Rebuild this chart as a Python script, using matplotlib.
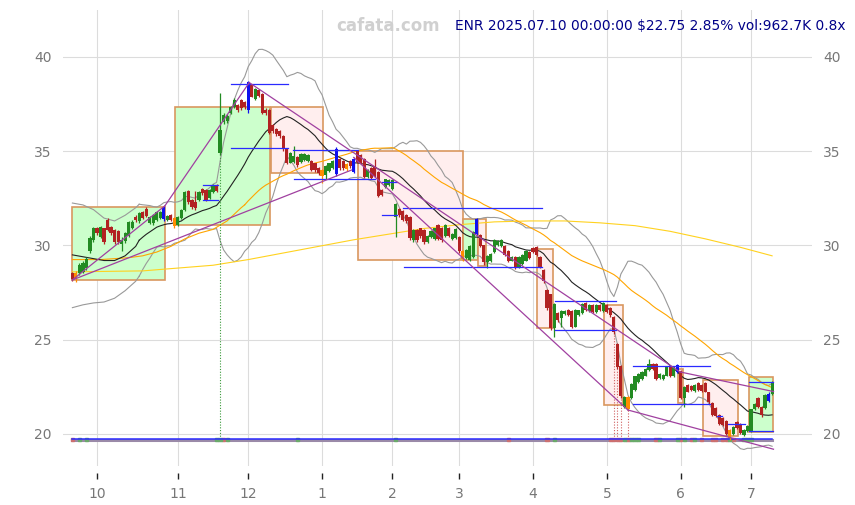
import numpy as np
import pandas as pd
import matplotlib
matplotlib.use('Agg')
import matplotlib.pyplot as plt
from matplotlib.patches import Rectangle

# ---------------- data ----------------
month_labels = ['10', '11', '12', '1', '2', '3', '4', '5', '6', '7']
month_start_idx = [7, 30, 50, 71, 91, 110, 131, 152, 173, 193]

opens = [28.55, 28.20, 28.55, 28.60, 28.80, 29.70, 30.30, 30.90, 30.45, 30.90,
         31.35, 31.00, 30.80, 30.75, 30.10, 30.25, 30.50, 30.90, 31.50, 31.30,
         31.80, 31.95, 31.20, 31.20, 31.35, 31.45, 31.40, 31.35, 31.60, 31.45,
         31.10, 31.45, 31.90, 32.90, 32.40, 32.30, 32.40, 33.00, 32.95, 32.50,
         32.85, 33.20, 34.90, 36.55, 36.60, 37.00, 37.35, 37.45, 37.70, 37.60,
         37.20, 38.50, 37.75, 38.25, 38.05, 37.20, 37.20, 36.40, 36.20, 36.05,
         35.80, 35.10, 34.40, 34.45, 34.70, 34.45, 34.55, 34.50, 34.50, 34.35,
         34.10, 34.00, 33.75, 33.95, 34.10, 33.80, 34.60, 34.50, 34.30, 34.50,
         33.90, 35.00, 34.80, 34.60, 33.65, 34.10, 34.20, 33.90, 32.95, 33.10,
         33.20, 33.00, 31.50, 31.95, 31.85, 31.60, 31.50, 30.30, 30.80, 30.90,
         30.80, 30.20, 30.45, 30.35, 31.10, 30.95, 30.50, 30.95, 30.35, 30.40,
         30.45, 29.70, 29.35, 29.25, 29.40, 30.60, 30.55, 30.00, 29.10, 29.20,
         29.65, 30.00, 29.95, 29.95, 29.70, 29.20, 29.40, 28.85, 29.00, 29.20,
         29.65, 29.85, 29.90, 29.40, 28.70, 27.65, 27.40, 25.60, 26.40, 26.15,
         26.35, 26.60, 26.50, 25.70, 26.30, 26.40, 26.95, 26.50, 26.85, 26.45,
         26.85, 26.50, 26.85, 26.70, 26.20, 24.75, 23.60, 21.45, 21.95, 21.90,
         22.35, 22.75, 22.90, 23.10, 23.40, 23.70, 23.70, 22.95, 22.90, 23.10,
         23.60, 23.05, 23.30, 23.35, 21.90, 22.60, 22.55, 22.30, 22.70, 22.60,
         22.70, 22.20, 21.65, 21.40, 21.00, 20.85, 20.70, 20.20, 20.00, 20.65,
         20.55, 19.95, 20.15, 20.15, 21.30, 21.90, 21.45, 21.40, 21.75, 22.10]

closes = [28.20, 28.55, 28.95, 29.05, 29.30, 30.40, 30.90, 30.65, 31.00, 30.20,
          30.80, 30.65, 30.20, 30.20, 30.30, 30.65, 31.25, 31.25, 31.35, 31.70,
          31.45, 31.55, 31.50, 31.60, 31.80, 31.80, 32.05, 31.55, 31.35, 31.05,
          31.50, 31.90, 32.85, 32.30, 32.05, 32.00, 32.85, 32.80, 32.40, 32.95,
          33.20, 32.90, 36.10, 36.90, 36.85, 37.35, 37.70, 37.20, 37.30, 37.35,
          38.65, 37.90, 38.30, 37.95, 37.00, 37.00, 35.95, 36.05, 35.90, 35.80,
          35.10, 34.40, 34.90, 34.75, 34.25, 34.85, 34.85, 34.80, 34.00, 34.00,
          33.85, 33.70, 34.20, 34.35, 34.50, 35.10, 34.10, 34.10, 34.05, 34.20,
          34.60, 34.45, 34.40, 33.65, 34.00, 33.60, 33.70, 32.60, 32.70, 33.50,
          33.45, 33.45, 32.20, 31.60, 31.35, 31.30, 30.40, 30.80, 30.30, 30.50,
          30.20, 30.50, 30.75, 30.90, 30.35, 30.30, 31.10, 30.50, 30.60, 30.85,
          29.70, 29.30, 29.75, 29.95, 30.70, 31.40, 29.95, 29.10, 29.45, 29.55,
          30.30, 30.25, 30.30, 29.50, 29.20, 29.40, 28.80, 29.40, 29.50, 29.70,
          29.35, 29.65, 29.50, 28.85, 28.10, 26.70, 25.60, 26.90, 26.05, 26.50,
          26.50, 26.30, 25.70, 26.60, 26.55, 26.90, 26.55, 26.85, 26.45, 26.85,
          26.55, 26.95, 26.45, 26.30, 25.40, 23.55, 22.00, 21.95, 21.35, 22.65,
          23.05, 23.20, 23.30, 23.45, 23.70, 23.45, 22.90, 23.20, 23.15, 23.55,
          23.05, 23.55, 23.65, 21.90, 22.50, 22.25, 22.35, 22.60, 22.35, 22.30,
          22.25, 21.70, 21.00, 20.95, 20.55, 20.45, 20.00, 19.80, 20.35, 20.30,
          20.05, 20.20, 20.40, 21.30, 21.60, 21.45, 21.00, 22.05, 22.12, 22.75]

highs = [28.60, 28.65, 29.05, 29.15, 29.40, 30.50, 31.00, 31.00, 31.05, 30.95,
         31.45, 31.05, 30.85, 30.80, 30.45, 30.70, 31.30, 31.35, 31.60, 31.75,
         31.85, 32.05, 31.55, 31.65, 31.85, 31.85, 32.10, 31.60, 31.65, 31.50,
         31.55, 31.95, 32.90, 32.95, 32.45, 32.90, 32.90, 33.05, 33.00, 33.00,
         33.25, 33.25, 38.10, 37.00, 36.95, 37.40, 37.80, 37.50, 37.75, 37.65,
         38.75, 38.55, 38.35, 38.30, 38.10, 37.30, 37.25, 36.45, 36.25, 36.10,
         35.85, 35.15, 34.95, 35.30, 34.75, 34.90, 34.90, 34.85, 34.55, 34.40,
         34.15, 34.05, 34.25, 34.40, 34.55, 35.20, 34.65, 34.55, 34.35, 34.55,
         34.70, 35.05, 34.85, 34.65, 34.05, 34.15, 34.60, 33.95, 33.00, 33.55,
         33.50, 33.50, 32.25, 32.00, 31.90, 31.65, 31.55, 30.85, 30.85, 30.95,
         30.85, 30.55, 30.80, 30.95, 31.15, 31.00, 31.15, 31.00, 30.65, 30.90,
         30.50, 29.75, 29.80, 30.00, 30.75, 31.45, 30.60, 30.05, 29.50, 29.60,
         30.35, 30.30, 30.35, 30.00, 29.75, 29.45, 29.45, 29.45, 29.55, 29.75,
         29.70, 29.90, 29.95, 29.45, 28.75, 27.70, 27.45, 26.95, 26.45, 26.55,
         26.55, 26.65, 26.55, 26.65, 26.60, 26.95, 27.00, 26.90, 26.90, 26.90,
         26.90, 27.00, 26.90, 26.75, 26.25, 24.80, 23.65, 22.00, 22.00, 22.70,
         23.10, 23.25, 23.35, 23.50, 23.95, 23.75, 23.75, 23.25, 23.20, 23.60,
         23.65, 23.60, 23.70, 23.40, 22.55, 22.65, 22.60, 22.65, 22.75, 22.65,
         22.75, 22.25, 21.70, 21.45, 21.05, 20.90, 20.75, 20.25, 20.40, 20.70,
         20.60, 20.25, 20.45, 21.35, 21.65, 21.95, 21.50, 22.10, 22.25, 22.80]

lows = [28.10, 28.05, 28.45, 28.55, 28.70, 29.60, 30.20, 30.55, 30.40, 30.10,
        30.75, 30.55, 30.10, 30.10, 29.70, 30.15, 30.45, 30.85, 31.25, 31.20,
        31.40, 31.50, 31.15, 31.10, 31.30, 31.40, 31.30, 31.30, 31.30, 30.95,
        31.05, 31.40, 31.85, 32.20, 31.95, 31.90, 32.35, 32.70, 32.35, 32.45,
        32.80, 32.85, 34.80, 36.45, 36.50, 36.95, 37.30, 37.10, 37.20, 37.25,
        37.00, 37.85, 37.70, 37.85, 36.95, 36.90, 35.90, 35.95, 35.80, 35.70,
        35.00, 34.30, 34.35, 34.40, 34.15, 34.40, 34.50, 34.45, 33.95, 33.90,
        33.75, 33.30, 33.50, 33.90, 34.05, 33.70, 34.00, 34.00, 33.95, 34.10,
        33.85, 34.40, 34.30, 33.60, 33.60, 33.55, 33.65, 32.55, 32.60, 33.05,
        33.15, 32.95, 30.45, 31.50, 31.30, 31.20, 30.30, 30.20, 30.20, 30.40,
        30.10, 30.15, 30.40, 30.30, 30.30, 30.20, 30.45, 30.45, 30.30, 30.35,
        29.60, 29.20, 29.30, 29.20, 29.35, 30.55, 29.90, 28.95, 28.80, 29.10,
        29.60, 29.95, 29.90, 29.45, 29.10, 29.15, 28.75, 28.80, 28.95, 29.15,
        29.30, 29.60, 29.45, 28.80, 28.00, 26.60, 25.50, 25.15, 25.95, 25.70,
        26.30, 26.25, 25.60, 25.65, 26.25, 26.35, 26.50, 26.45, 26.40, 26.40,
        26.50, 26.45, 26.40, 26.20, 25.30, 23.45, 21.90, 21.40, 21.25, 21.85,
        22.30, 22.70, 22.85, 23.05, 23.35, 23.40, 22.85, 22.90, 22.85, 23.05,
        23.00, 23.00, 23.25, 21.85, 21.45, 22.20, 22.30, 22.25, 22.30, 22.25,
        22.20, 21.60, 20.95, 20.90, 20.50, 20.40, 19.95, 19.70, 19.95, 20.25,
        20.00, 19.90, 20.10, 20.10, 21.25, 21.40, 20.90, 21.35, 21.70, 22.05]

blue_idx = [26, 50, 75, 80, 115, 172, 198]
orange_idx = [1, 29, 71, 78, 111, 158, 187]

# indicator values read from the chart where the rolling window is not yet full
ma20_head_idx = [0, 3, 6, 9, 12, 15, 18]
ma20_head = [29.50, 29.40, 29.30, 29.20, 29.20, 29.45, 29.95]
bbu_head = [32.25, 32.15, 31.90, 31.45, 31.30, 31.60, 32.00]
bbl_head = [26.70, 26.85, 26.95, 27.00, 27.20, 27.60, 28.10]
ma50_head_idx = [0, 4, 8, 12, 16, 20, 24, 28, 32, 36, 40, 44, 48]
ma50_head = [29.25, 29.25, 29.25, 29.30, 29.35, 29.45, 29.65, 29.95, 30.35,
             30.65, 30.85, 31.30, 32.00]
ma200_idx = [0, 20, 40, 50, 60, 70, 80, 90, 100, 110, 120, 130, 140, 150,
             160, 170, 180, 190, 199]
ma200_val = [28.60, 28.65, 28.95, 29.25, 29.60, 29.95, 30.30, 30.60, 30.90,
             31.10, 31.25, 31.30, 31.30, 31.20, 31.05, 30.75, 30.35, 29.90, 29.45]

# boxes: start idx, end idx, low, high, kind
box_start = [-0.1, 29.2, 56.4, 81.3, 111.2, 115.4, 132.2, 151.2, 172.3, 179.4, 192.4]
box_end = [26.3, 56.2, 71.4, 111.2, 115.4, 117.5, 136.6, 156.5, 173.6, 189.4, 199.3]
box_low = [28.17, 31.09, 33.83, 29.23, 29.23, 28.93, 25.61, 21.54, 21.66, 19.89, 20.12]
box_high = [32.03, 37.36, 37.33, 35.03, 31.39, 31.39, 29.80, 26.84, 23.43, 22.86, 23.00]
box_up = [True, True, False, False, True, False, False, False, False, False, True]

# blue level segments: start idx, end idx, level
lvl_start = [37.2, 37.2, 45.1, 45.1, 62.8, 63.1, 88.1, 88.1, 93.9, 94.3,
             137.3, 137.3, 159.5, 159.5, 183.2, 186.5, 192.4, 192.4]
lvl_end = [41.5, 41.5, 61.2, 61.2, 81.3, 86.1, 92.2, 92.2, 133.5, 133.5,
           154.6, 154.6, 181.3, 181.3, 184.7, 191.3, 199.3, 199.3]
lvl_val = [33.21, 32.41, 38.55, 35.16, 35.05, 33.52, 33.39, 31.62, 31.97, 28.85,
           27.06, 25.52, 23.61, 21.58, 20.95, 20.52, 22.75, 20.14]

# purple trend lines: (idx0, val0, idx1, val1)
tl_x0 = [0.0, 26.3, 0.0, 50.3, 172.8, 80.0, 158.0]
tl_y0 = [28.17, 32.10, 28.17, 38.64, 23.29, 34.67, 21.27]
tl_x1 = [26.3, 50.3, 79.4, 172.8, 199.4, 158.0, 199.4]
tl_y1 = [32.10, 38.64, 34.00, 23.29, 22.25, 21.27, 19.19]

# signal markers
sig_green_dotted = [42]
sig_red_dotted = [154, 155, 156, 158]
strip_level = 19.75
strip_red = [0, 43, 124, 135, 153, 154, 155, 156, 158, 166, 173, 176, 179, 182, 183, 185, 186, 188]
strip_green = [2, 4, 41, 42, 44, 64, 92, 137, 157, 159, 160, 161, 167, 172, 174, 177, 187, 191, 192, 193]

title_left = 'cafata.com'
title_right = 'ENR 2025.07.10 00:00:00 $22.75 2.85% vol:962.7K 0.8x'

# ---------------- indicators ----------------
c = pd.Series(closes)
ma20 = c.rolling(20).mean()
sd20 = c.rolling(20).std(ddof=0)
bbu = ma20 + 2 * sd20
bbl = ma20 - 2 * sd20
ma50 = c.rolling(50).mean()
n = len(closes)
idx = np.arange(n)

# ---------------- figure ----------------
W, H = 855, 505
fig = plt.figure(figsize=(W / 100, H / 100), dpi=100)
ax = fig.add_axes([63 / W, 39 / H, (812 - 63) / W, (466 - 10) / H])
ax.set_xlim(-2.67, 210.35)
ax.set_ylim(18.30, 42.49)
for s in ax.spines.values():
    s.set_visible(False)
ax.spines['bottom'].set_position(('outward', 5))
ax.set_axisbelow(True)
ax.grid(True, color='#dcdcdc', lw=0.8)
ax.set_yticks([20, 25, 30, 35, 40])
ax.set_xticks(month_start_idx)
ax.set_xticklabels(month_labels)
ax.tick_params(axis='y', length=0, labelsize=10, labelcolor='#777777',
               labelleft=True, labelright=True, pad=8)
ax.tick_params(axis='x', length=4, width=1.0, color='#222222', labelsize=10,
               labelcolor='#777777', pad=6)

# boxes
for x0, x1, lo, hi, up in zip(box_start, box_end, box_low, box_high, box_up):
    ax.add_patch(Rectangle((x0, lo), x1 - x0, hi - lo,
                           facecolor='#ccffcc' if up else '#ffeeee',
                           edgecolor='#d9975f', lw=1.2, zorder=1))

# indicator lines
ax.plot(idx[19:], bbu[19:], color='#999999', lw=0.8, zorder=2)
ax.plot(idx[19:], bbl[19:], color='#999999', lw=0.8, zorder=2)
ax.plot(ma20_head_idx + [19], bbu_head + [bbu[19]], color='#999999', lw=0.8, zorder=2)
ax.plot(ma20_head_idx + [19], bbl_head + [bbl[19]], color='#999999', lw=0.8, zorder=2)
ax.plot(ma200_idx, ma200_val, color='#ffd21f', lw=0.8, zorder=2)
ax.plot(idx[49:], ma50[49:], color='#ffa500', lw=0.8, zorder=2)
ax.plot(ma50_head_idx + [49], ma50_head + [ma50[49]], color='#ffa500', lw=0.8, zorder=2)
ax.plot(idx[19:], ma20[19:], color='#222222', lw=0.8, zorder=2)
ax.plot(ma20_head_idx + [19], ma20_head + [ma20[19]], color='#222222', lw=0.8, zorder=2)

# dotted signal lines
for i in sig_green_dotted:
    ax.vlines(i, strip_level, lows[i], colors='#3a9a3a', linestyles=(0, (1, 1.5)), lw=0.8, zorder=2)
for i in sig_red_dotted:
    ax.vlines(i, strip_level, lows[i], colors='#d06060', linestyles=(0, (1, 1.5)), lw=0.8, zorder=2)

# bottom strip
ax.plot([0, n - 1], [strip_level - 0.05, strip_level - 0.05], color='#9a8aa8', lw=2.2, zorder=2)
for i in strip_red:
    ax.add_patch(Rectangle((i - 0.45, strip_level - 0.14), 0.9, 0.16, color='#cc7070', zorder=3))
for i in strip_green:
    ax.add_patch(Rectangle((i - 0.45, strip_level - 0.14), 0.9, 0.16, color='#6aaa6a', zorder=3))
ax.plot([0, n - 1], [strip_level, strip_level], color='#2a2aff', lw=1.1, zorder=4)

# candles
for i in range(n):
    o, cl, h, l = opens[i], closes[i], highs[i], lows[i]
    if i in blue_idx:
        col = '#1010ee'
    elif i in orange_idx:
        col = '#ff8c00'
    elif cl >= o:
        col = '#228b22'
    else:
        col = '#b22222'
    ax.vlines(i, l, h, colors=col, lw=0.9, zorder=5)
    ax.bar(i, max(abs(cl - o), 0.04), bottom=min(o, cl), width=0.9, color=col, zorder=5, lw=0)

# blue levels
for x0, x1, v in zip(lvl_start, lvl_end, lvl_val):
    ax.plot([x0, x1], [v, v], color='#2a2aff', lw=0.9, zorder=6)

# trend lines
for x0, y0, x1, y1 in zip(tl_x0, tl_y0, tl_x1, tl_y1):
    ax.plot([x0, x1], [y0, y1], color='#a040a0', lw=0.9, zorder=6)

# titles
fig.text(388 / W, 1 - 26 / H, title_left, ha='center', va='center',
         fontsize=12, fontweight='bold', color='#d0d0d0')
fig.text(845 / W, 1 - 26 / H, title_right, ha='right', va='center',
         fontsize=9.9, color='#000088')

fig.savefig('out.png', dpi=100)
